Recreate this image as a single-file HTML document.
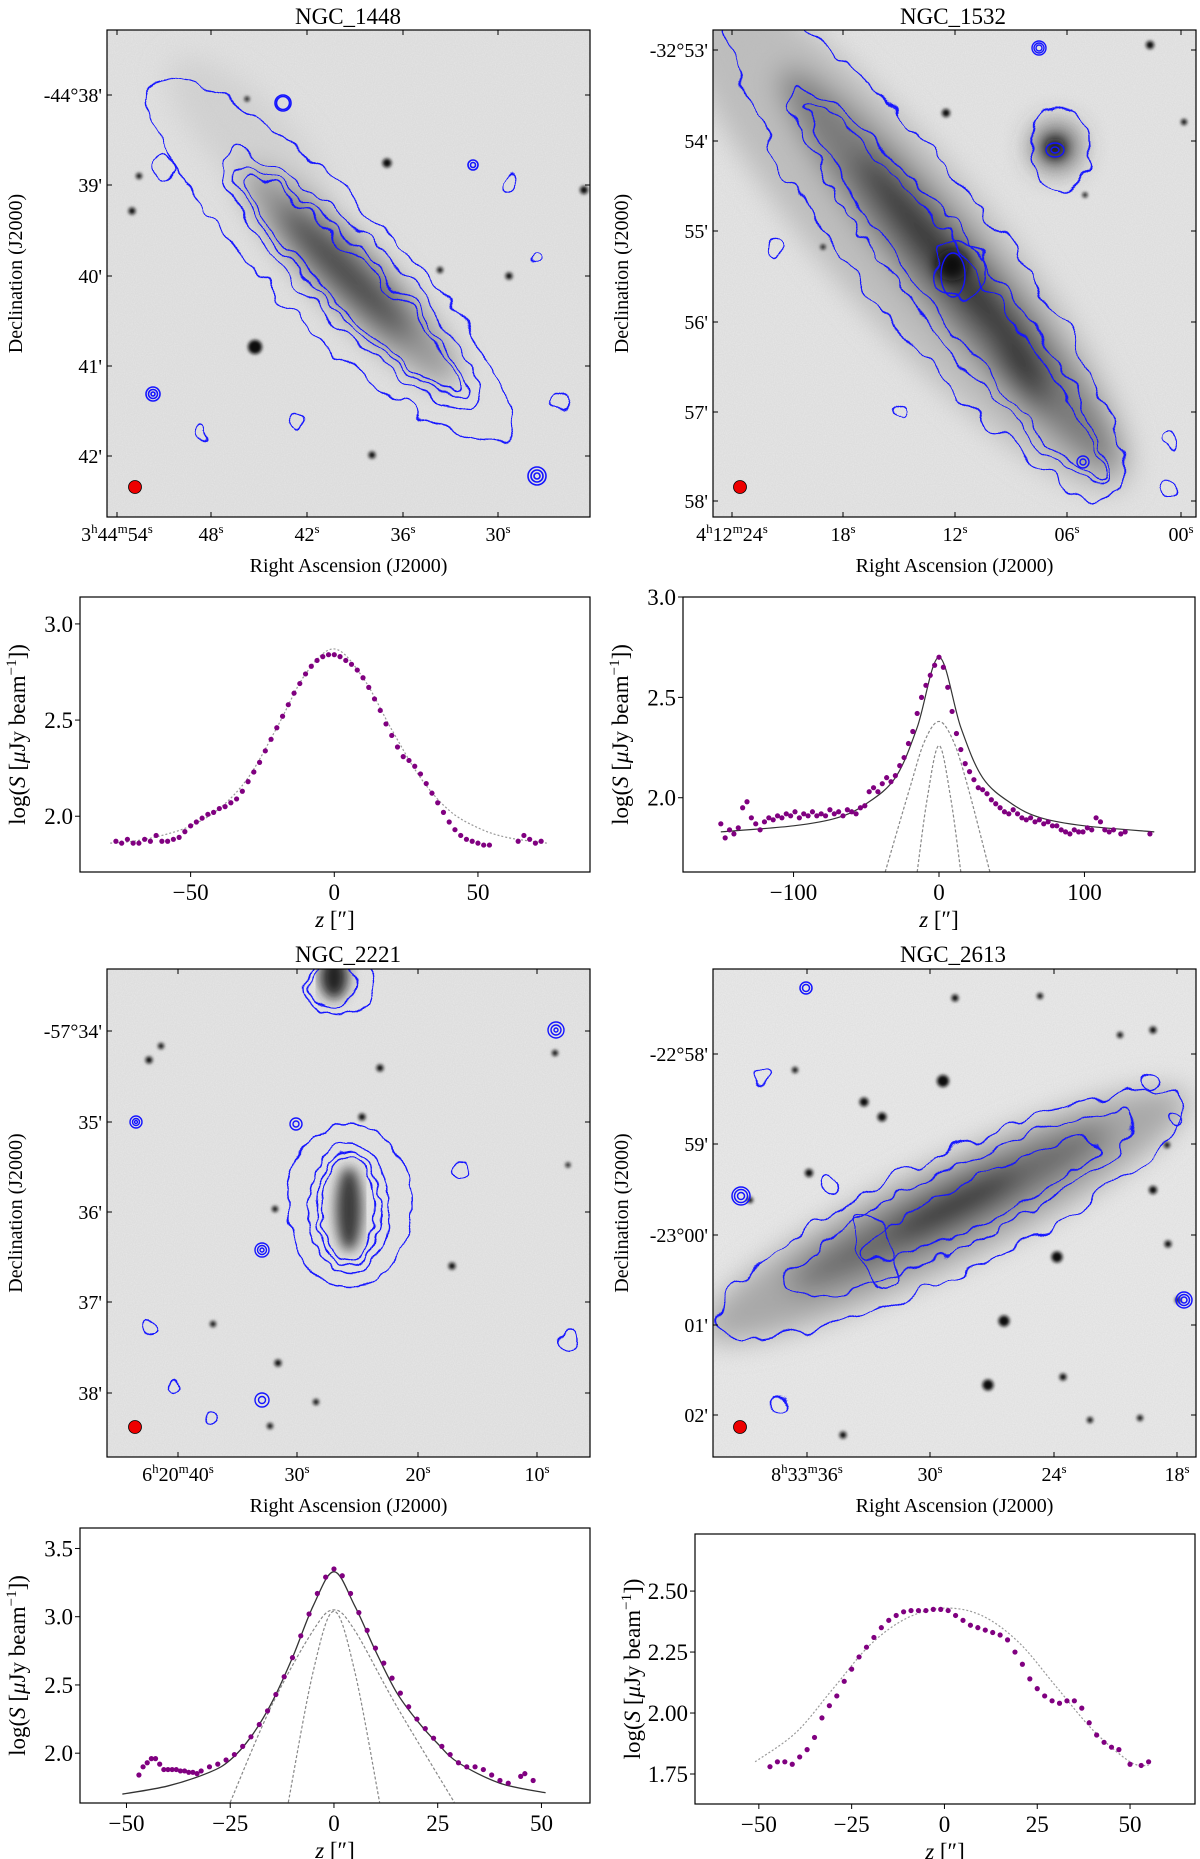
<!DOCTYPE html>
<html><head><meta charset="utf-8">
<style>
html,body{margin:0;padding:0;background:#fff;}
svg{display:block;font-family:"Liberation Serif",serif;}
</style></head>
<body>
<svg id="fig" width="1200" height="1859" viewBox="0 0 1200 1859" xmlns="http://www.w3.org/2000/svg">
<defs>
  <filter id="noise" x="0" y="0" width="100%" height="100%">
    <feTurbulence type="fractalNoise" baseFrequency="0.9" numOctaves="1" seed="3" result="t"/>
    <feColorMatrix in="t" type="matrix" values="0 0 0 0 0  0 0 0 0 0  0 0 0 0 0  0.35 0 0 0 0"/>
    <feComposite in2="SourceGraphic" operator="in"/>
  </filter>
  <filter id="wig" x="-20%" y="-20%" width="140%" height="140%">
    <feTurbulence type="fractalNoise" baseFrequency="0.035" numOctaves="2" seed="7" result="t"/>
    <feDisplacementMap in="SourceGraphic" in2="t" scale="22" xChannelSelector="R" yChannelSelector="G"/>
  </filter>
  <filter id="wig2" x="-20%" y="-20%" width="140%" height="140%">
    <feTurbulence type="fractalNoise" baseFrequency="0.05" numOctaves="2" seed="11" result="t"/>
    <feDisplacementMap in="SourceGraphic" in2="t" scale="12" xChannelSelector="R" yChannelSelector="G"/>
  </filter>
  <filter id="blur6"><feGaussianBlur stdDeviation="6"/></filter>
  <filter id="blur14"><feGaussianBlur stdDeviation="14"/></filter>
  <filter id="blur2"><feGaussianBlur stdDeviation="1.6"/></filter>
  <clipPath id="c1"><rect x="107" y="30" width="483" height="487"/></clipPath>
  <clipPath id="c2"><rect x="713" y="30" width="483" height="487"/></clipPath>
  <clipPath id="c3"><rect x="107" y="969" width="483" height="488"/></clipPath>
  <clipPath id="c4"><rect x="713" y="969" width="483" height="488"/></clipPath>
</defs>

<!-- ================= IMAGE PANEL 1: NGC_1448 ================= -->
<g>
  <text x="348" y="24" font-size="23" text-anchor="middle">NGC_1448</text>
  <g clip-path="url(#c1)">
    <rect x="107" y="30" width="483" height="487" fill="#e6e6e6"/>
    <rect x="107" y="30" width="483" height="487" fill="#000" filter="url(#noise)" opacity="0.18"/>
    <g filter="url(#blur14)">
      <ellipse cx="250" cy="140" rx="110" ry="40" transform="rotate(45 250 140)" fill="#c4c4c4" opacity="0.5"/>
      <ellipse cx="350" cy="276" rx="150" ry="32" transform="rotate(45 350 276)" fill="#959595"/>
      <ellipse cx="345" cy="272" rx="95" ry="18" transform="rotate(45 345 272)" fill="#3a3a3a"/>
    </g>
    <g fill="#111" filter="url(#blur2)">
      <circle cx="255" cy="347" r="7"/><circle cx="387" cy="163" r="4.5"/><circle cx="139" cy="176" r="3"/>
      <circle cx="132" cy="211" r="3.5"/><circle cx="584" cy="190" r="4"/><circle cx="509" cy="276" r="3.5"/>
      <circle cx="440" cy="270" r="3"/><circle cx="372" cy="455" r="3.5"/><circle cx="247" cy="99" r="2.5"/>
    </g>
    <g fill="none" stroke="#1414ff" stroke-width="1.4" filter="url(#wig)">
      <ellipse cx="330" cy="260" rx="250" ry="62" transform="rotate(45 330 260)"/>
      <ellipse cx="350" cy="280" rx="178" ry="42" transform="rotate(45 350 280)"/>
      <ellipse cx="350" cy="282" rx="160" ry="30" transform="rotate(45 350 282)"/>
      <ellipse cx="352" cy="284" rx="150" ry="23" transform="rotate(45 352 284)"/>
      <circle cx="165" cy="170" r="9"/><circle cx="510" cy="180" r="8"/><circle cx="535" cy="258" r="7"/>
      <circle cx="300" cy="420" r="8"/><circle cx="560" cy="400" r="9"/><circle cx="200" cy="430" r="6"/>
    </g>
    <g fill="none" stroke="#1414ff" stroke-width="1.6">
      <circle cx="283" cy="103" r="8"/><circle cx="283" cy="103" r="6.5"/>
      <circle cx="153" cy="394" r="7"/><circle cx="153" cy="394" r="4.5"/><circle cx="153" cy="394" r="2"/>
      <circle cx="537" cy="476" r="9"/><circle cx="537" cy="476" r="6"/><circle cx="537" cy="476" r="3"/>
      <circle cx="473" cy="165" r="5"/><circle cx="473" cy="165" r="2.5"/>
    </g>
    <circle cx="135" cy="487" r="6.5" fill="#e00" stroke="#000" stroke-width="0.8"/>
  </g>
  <g id="ax1"></g>
</g>

<!-- ================= IMAGE PANEL 2: NGC_1532 ================= -->
<g>
  <text x="953" y="24" font-size="23" text-anchor="middle">NGC_1532</text>
  <g clip-path="url(#c2)">
    <rect x="713" y="30" width="483" height="487" fill="#e8e8e8"/>
    <rect x="713" y="30" width="483" height="487" fill="#000" filter="url(#noise)" opacity="0.18"/>
    <g filter="url(#blur14)">
      <ellipse cx="900" cy="230" rx="340" ry="80" transform="rotate(49 900 230)" fill="#b4b4b4" opacity="0.8"/>
      <ellipse cx="950" cy="270" rx="260" ry="40" transform="rotate(50 950 270)" fill="#7a7a7a"/>
      <ellipse cx="952" cy="268" rx="150" ry="20" transform="rotate(50 952 268)" fill="#2e2e2e"/>
      <ellipse cx="1022" cy="377" rx="40" ry="12" transform="rotate(50 1022 377)" fill="#2e2e2e"/>
      <circle cx="1056" cy="147" r="22" fill="#444"/>
    </g>
    <g filter="url(#blur6)"><circle cx="952" cy="265" r="16" fill="#111"/><circle cx="1055" cy="148" r="10" fill="#111"/></g>
    <g fill="#111" filter="url(#blur2)">
      <circle cx="1150" cy="45" r="4"/><circle cx="946" cy="113" r="4"/><circle cx="1184" cy="122" r="3"/>
      <circle cx="1085" cy="195" r="2.5"/><circle cx="823" cy="247" r="2.5"/>
    </g>
    <g fill="none" stroke="#1414ff" stroke-width="1.4" filter="url(#wig)">
      <ellipse cx="925" cy="250" rx="310" ry="70" transform="rotate(52 925 250)"/>
      <ellipse cx="950" cy="285" rx="250" ry="42" transform="rotate(52 950 285)"/>
      <ellipse cx="955" cy="290" rx="240" ry="28" transform="rotate(52 955 290)"/>
      <ellipse cx="1060" cy="150" rx="30" ry="40"/>
      <circle cx="960" cy="270" r="28"/>
      <circle cx="775" cy="250" r="8"/><circle cx="1170" cy="440" r="9"/><circle cx="1170" cy="490" r="9"/>
      <circle cx="900" cy="410" r="8"/>
    </g>
    <g fill="none" stroke="#1414ff" stroke-width="1.4">
      <ellipse cx="953" cy="275" rx="12" ry="22"/><ellipse cx="1055" cy="150" rx="9" ry="7"/><ellipse cx="1055" cy="150" rx="4" ry="3"/>
      <circle cx="1039" cy="48" r="7"/><circle cx="1039" cy="48" r="5"/><circle cx="1039" cy="48" r="3"/>
      <circle cx="1083" cy="462" r="6"/><circle cx="1083" cy="462" r="3"/>
    </g>
    <circle cx="740" cy="487" r="6.5" fill="#e00" stroke="#000" stroke-width="0.8"/>
  </g>
  <g id="ax2"></g>
</g>

<!-- ================= IMAGE PANEL 3: NGC_2221 ================= -->
<g>
  <text x="348" y="962" font-size="23" text-anchor="middle">NGC_2221</text>
  <g clip-path="url(#c3)">
    <rect x="107" y="969" width="483" height="488" fill="#e8e8e8"/>
    <rect x="107" y="969" width="483" height="488" fill="#000" filter="url(#noise)" opacity="0.18"/>
    <g filter="url(#blur6)">
      <ellipse cx="349" cy="1209" rx="13" ry="42" fill="#3a3a3a"/>
      <ellipse cx="334" cy="977" rx="14" ry="22" fill="#222"/>
    </g>
    <g fill="#111" filter="url(#blur2)">
      <circle cx="161" cy="1046" r="3"/><circle cx="149" cy="1060" r="3.5"/><circle cx="380" cy="1068" r="3.5"/>
      <circle cx="362" cy="1117" r="3.5"/><circle cx="452" cy="1266" r="3.5"/><circle cx="278" cy="1363" r="3.5"/>
      <circle cx="316" cy="1402" r="3"/><circle cx="555" cy="1053" r="3"/><circle cx="275" cy="1209" r="3"/>
      <circle cx="270" cy="1426" r="3"/><circle cx="213" cy="1324" r="3"/><circle cx="568" cy="1165" r="2.5"/>
    </g>
    <g fill="none" stroke="#1414ff" stroke-width="1.4" filter="url(#wig2)">
      <ellipse cx="349" cy="1205" rx="62" ry="82"/>
      <ellipse cx="349" cy="1208" rx="40" ry="66"/>
      <ellipse cx="349" cy="1209" rx="32" ry="58"/>
      <ellipse cx="349" cy="1209" rx="27" ry="53"/>
      <ellipse cx="340" cy="985" rx="35" ry="30"/><ellipse cx="334" cy="985" rx="25" ry="22"/>
      <circle cx="568" cy="1340" r="9"/><circle cx="148" cy="1330" r="7"/><circle cx="460" cy="1170" r="8"/>
      <circle cx="172" cy="1385" r="6"/><circle cx="212" cy="1415" r="6"/>
    </g>
    <g fill="none" stroke="#1414ff" stroke-width="1.4">
      <circle cx="136" cy="1122" r="6"/><circle cx="136" cy="1122" r="3.5"/><circle cx="136" cy="1122" r="1.5"/>
      <circle cx="262" cy="1250" r="7"/><circle cx="262" cy="1250" r="4.5"/><circle cx="262" cy="1250" r="2"/>
      <circle cx="556" cy="1030" r="8"/><circle cx="556" cy="1030" r="5"/><circle cx="556" cy="1030" r="2"/>
      <circle cx="296" cy="1124" r="6"/><circle cx="296" cy="1124" r="3"/><circle cx="262" cy="1400" r="7"/><circle cx="262" cy="1400" r="3.5"/>
    </g>
    <circle cx="135" cy="1427" r="6.5" fill="#e00" stroke="#000" stroke-width="0.8"/>
  </g>
  <g id="ax3"></g>
</g>

<!-- ================= IMAGE PANEL 4: NGC_2613 ================= -->
<g>
  <text x="953" y="962" font-size="23" text-anchor="middle">NGC_2613</text>
  <g clip-path="url(#c4)">
    <rect x="713" y="969" width="483" height="488" fill="#ececec"/>
    <rect x="713" y="969" width="483" height="488" fill="#000" filter="url(#noise)" opacity="0.18"/>
    <g filter="url(#blur14)">
      <ellipse cx="945" cy="1215" rx="270" ry="50" transform="rotate(-26 945 1215)" fill="#a8a8a8"/>
      <ellipse cx="950" cy="1208" rx="180" ry="26" transform="rotate(-26 950 1208)" fill="#666"/>
      <ellipse cx="955" cy="1205" rx="70" ry="15" transform="rotate(-26 955 1205)" fill="#2a2a2a"/>
    </g>
    <g fill="#111" filter="url(#blur2)">
      <circle cx="943" cy="1081" r="6"/><circle cx="864" cy="1102" r="4.5"/><circle cx="882" cy="1117" r="4.5"/>
      <circle cx="1057" cy="1257" r="5.5"/><circle cx="1004" cy="1321" r="5.5"/><circle cx="988" cy="1385" r="5.5"/>
      <circle cx="809" cy="1173" r="4"/><circle cx="1153" cy="1190" r="4"/><circle cx="1168" cy="1244" r="3.5"/>
      <circle cx="1063" cy="1377" r="3.5"/><circle cx="843" cy="1435" r="3.5"/><circle cx="955" cy="998" r="3.5"/>
      <circle cx="1153" cy="1030" r="3.5"/><circle cx="1120" cy="1035" r="3"/><circle cx="1040" cy="996" r="3"/>
      <circle cx="1090" cy="1420" r="3"/><circle cx="1140" cy="1418" r="3"/><circle cx="1178" cy="1300" r="3"/>
      <circle cx="795" cy="1070" r="3"/><circle cx="750" cy="1200" r="3"/><circle cx="1167" cy="1145" r="3"/>
    </g>
    <g fill="none" stroke="#1414ff" stroke-width="1.4" filter="url(#wig)">
      <ellipse cx="950" cy="1215" rx="260" ry="58" transform="rotate(-26 950 1215)"/>
      <ellipse cx="960" cy="1205" rx="195" ry="38" transform="rotate(-26 960 1205)"/>
      <ellipse cx="980" cy="1200" rx="130" ry="22" transform="rotate(-26 980 1200)"/>
      <ellipse cx="876" cy="1250" rx="18" ry="40" transform="rotate(-20 876 1250)"/>
      <circle cx="830" cy="1185" r="9"/><circle cx="1175" cy="1120" r="8"/><circle cx="1150" cy="1080" r="9"/>
      <circle cx="780" cy="1405" r="10"/><circle cx="760" cy="1075" r="7"/>
    </g>
    <g fill="none" stroke="#1414ff" stroke-width="1.5">
      <circle cx="741" cy="1196" r="9"/><circle cx="741" cy="1196" r="6.5"/><circle cx="741" cy="1196" r="3.5"/>
      <circle cx="1184" cy="1300" r="8"/><circle cx="1184" cy="1300" r="5.5"/><circle cx="1184" cy="1300" r="3"/>
      <circle cx="806" cy="988" r="6"/><circle cx="806" cy="988" r="3.5"/>
    </g>
    <circle cx="740" cy="1427" r="6.5" fill="#e00" stroke="#000" stroke-width="0.8"/>
  </g>
  <g id="ax4"></g>
</g>

<g id="profiles"></g>
</svg>

<script>
// ---------------- Profile data ----------------
// NGC_1448 profile
const p1Z = [-76,-74,-72,-70,-68,-66,-64,-62,-60,-58,-56,-54,-52,-50,-48,-46,-44,-42,-40,-38,-36,-34,-32,-30,-28,-26,-24,-22,-20,-18,-16,-14,-12,-10,-8,-6,-4,-2,0,2,4,6,8,10,12,14,16,18,20,22,24,26,28,30,32,34,36,38,40,42,44,46,48,50,52,54,64,66,68,70,72];
const p1S = [1.87,1.86,1.88,1.86,1.86,1.88,1.87,1.90,1.87,1.87,1.88,1.89,1.92,1.95,1.97,1.99,2.01,2.02,2.04,2.05,2.07,2.09,2.13,2.18,2.23,2.28,2.34,2.40,2.46,2.52,2.58,2.64,2.69,2.74,2.78,2.81,2.83,2.84,2.84,2.83,2.81,2.79,2.76,2.72,2.67,2.61,2.55,2.48,2.42,2.36,2.31,2.29,2.26,2.22,2.17,2.12,2.07,2.02,1.97,1.93,1.90,1.88,1.87,1.86,1.85,1.85,1.87,1.90,1.88,1.86,1.87];
const p1ModelZ = [-78,-70,-60,-50,-40,-30,-20,-10,0,10,20,30,40,50,60,74];
const p1ModelS = [1.86,1.87,1.90,1.95,2.04,2.20,2.46,2.74,2.87,2.72,2.45,2.20,2.03,1.94,1.89,1.86];
const p1XTicks = [-50,0,50];
const p1YTicks = [2.0,2.5,3.0];

// NGC_1532 profile
const p2Z = [-150,-147,-144,-141,-138,-135,-132,-129,-126,-123,-120,-117,-114,-111,-108,-105,-102,-99,-96,-93,-90,-87,-84,-81,-78,-75,-72,-69,-66,-63,-60,-57,-54,-51,-48,-45,-42,-39,-36,-33,-30,-27,-24,-21,-18,-15,-12,-9,-6,-3,0,3,6,9,12,15,18,21,24,27,30,33,36,39,42,45,48,51,54,57,60,63,66,69,72,75,78,81,84,87,90,93,96,99,102,105,108,111,114,117,120,125,128,145];
const p2S = [1.87,1.80,1.84,1.82,1.85,1.95,1.98,1.90,1.87,1.84,1.88,1.90,1.89,1.91,1.90,1.92,1.91,1.93,1.90,1.92,1.91,1.93,1.91,1.92,1.91,1.94,1.92,1.93,1.91,1.94,1.93,1.92,1.95,1.96,2.03,2.05,2.03,2.07,2.10,2.08,2.11,2.16,2.20,2.27,2.33,2.42,2.50,2.56,2.61,2.66,2.70,2.65,2.55,2.43,2.32,2.24,2.17,2.13,2.09,2.05,2.04,2.02,1.99,1.97,1.95,1.93,1.92,1.94,1.92,1.90,1.89,1.90,1.88,1.89,1.87,1.88,1.86,1.86,1.84,1.83,1.82,1.84,1.83,1.83,1.85,1.84,1.90,1.88,1.84,1.83,1.84,1.82,1.83,1.82];
const p2TotalZ = [-150,-100,-70,-50,-30,-15,0,15,30,50,70,100,148];
const p2TotalS = [1.83,1.86,1.90,1.97,2.10,2.35,2.70,2.35,2.10,1.97,1.90,1.86,1.83];
const p2CompAZ = [-37,-20,-10,0,10,20,35];
const p2CompAS = [1.63,2.05,2.28,2.38,2.28,2.05,1.63];
const p2CompBZ = [-15,-8,0,8,15];
const p2CompBS = [1.63,2.00,2.26,2.00,1.63];
const p2XTicks = [-100,0,100];
const p2YTicks = [2.0,2.5,3.0];

// NGC_2221 profile
const p3Z = [-47,-46,-45,-44,-43,-42,-41,-40,-39,-38,-37,-36,-35,-34,-33,-32,-30,-28,-26,-24,-22,-20,-18,-16,-14,-12,-10,-8,-6,-4,-2,0,2,4,6,8,10,12,14,16,18,20,22,24,26,28,30,32,34,36,38,40,42,45,46,48];
const p3S = [1.84,1.90,1.93,1.96,1.96,1.92,1.88,1.88,1.88,1.88,1.87,1.87,1.86,1.86,1.85,1.87,1.90,1.92,1.95,1.99,2.05,2.12,2.21,2.31,2.43,2.56,2.70,2.86,3.02,3.17,3.29,3.35,3.30,3.17,3.03,2.90,2.77,2.66,2.55,2.44,2.34,2.25,2.18,2.11,2.05,1.99,1.93,1.90,1.90,1.88,1.84,1.80,1.78,1.83,1.85,1.80];
const p3TotalZ = [-51,-40,-30,-25,-20,-15,-10,-5,0,5,10,15,20,25,30,40,51];
const p3TotalS = [1.70,1.76,1.86,1.95,2.12,2.37,2.70,3.08,3.33,3.08,2.75,2.45,2.24,2.07,1.93,1.78,1.71];
const p3CompAZ = [-25,-15,-5,0,5,15,29];
const p3CompAS = [1.64,2.35,2.90,3.05,2.90,2.35,1.64];
const p3CompBZ = [-11,-5,0,5,11];
const p3CompBS = [1.64,2.60,3.04,2.60,1.64];
const p3XTicks = [-50,-25,0,25,50];
const p3YTicks = [2.0,2.5,3.0,3.5];

// NGC_2613 profile
const p4Z = [-47,-45,-43,-41,-39,-37,-35,-33,-31,-29,-27,-25,-23,-21,-19,-17,-15,-13,-11,-9,-7,-5,-3,-1,1,3,5,7,9,11,13,15,17,19,21,23,25,27,29,31,33,35,37,39,41,43,45,47,50,53,55];
const p4S = [1.78,1.80,1.80,1.79,1.82,1.85,1.90,1.98,2.03,2.07,2.13,2.18,2.23,2.27,2.31,2.35,2.38,2.40,2.415,2.42,2.42,2.42,2.425,2.425,2.42,2.40,2.38,2.36,2.35,2.34,2.33,2.32,2.30,2.25,2.20,2.14,2.10,2.07,2.05,2.04,2.05,2.05,2.02,1.96,1.91,1.88,1.86,1.85,1.79,1.785,1.80];
const p4ModelZ = [-51,-40,-30,-20,-10,0,10,20,30,40,50,55];
const p4ModelS = [1.80,1.92,2.10,2.28,2.39,2.43,2.40,2.29,2.11,1.93,1.80,1.785];
const p4XTicks = [-50,-25,0,25,50];
const p4YTicks = [1.75,2.00,2.25,2.50];

// ---------------- Image-panel tick labels ----------------
const im1Dec = ["-44°38'","39'","40'","41'","42'"];
const im1RA = ["54","48","42","36","30"];
const im2Dec = ["-32°53'","54'","55'","56'","57'","58'"];
const im2RA = ["24","18","12","06","00"];
const im3Dec = ["-57°34'","35'","36'","37'","38'"];
const im3RA = ["40","30","20","10"];
const im4Dec = ["-22°58'","59'","-23°00'","01'","02'"];
const im4RA = ["36","30","24","18"];

const NS = "http://www.w3.org/2000/svg";
function mk(tag, attrs, parent){
  const e = document.createElementNS(NS, tag);
  for (const k in attrs) e.setAttribute(k, attrs[k]);
  if (parent) parent.appendChild(e);
  return e;
}

function imageAxes(gid, box, decLabels, decPix, raLabels, raPix, raPrefix, prefix){
  const g = document.getElementById(gid);
  const fr = mk('rect',{x:box.x,y:box.y,width:box.w,height:box.h,fill:'none',stroke:'#000','stroke-width':1.2},g);
  
  
  decLabels.forEach((lab,i)=>{
    const y = decPix[i];
    mk('line',{x1:box.x,x2:box.x+5,y1:y,y2:y,stroke:'#000'},g);
    mk('line',{x1:box.x+box.w,x2:box.x+box.w-5,y1:y,y2:y,stroke:'#000'},g);
    const t = mk('text',{x:box.x-5,y:y+7,'font-size':20,'text-anchor':'end'},g);
    t.textContent = lab;
    
    
  });
  raLabels.forEach((lab,i)=>{
    const x = raPix[i];
    mk('line',{x1:x,x2:x,y1:box.y+box.h,y2:box.y+box.h-5,stroke:'#000'},g);
    mk('line',{x1:x,x2:x,y1:box.y,y2:box.y+5,stroke:'#000'},g);
    const t = mk('text',{x:x,y:box.y+box.h+24,'font-size':20,'text-anchor':'middle'},g);
    
    
    if (i===0){
      const parts = raPrefix.concat([lab,'s']);
      parts.forEach((p,j)=>{
        const ts = mk('tspan',{},t);
        if (j%2===1){ ts.setAttribute('font-size',13); ts.setAttribute('dy',-8); }
        else if (j>0){ ts.setAttribute('dy',8); }
        ts.textContent = p;
      });
    } else {
      const a = mk('tspan',{},t); a.textContent = lab;
      const b = mk('tspan',{'font-size':13,dy:-8},t); b.textContent = 's';
    }
  });
  const xl = mk('text',{x:box.x+box.w/2,y:box.y+box.h+55,'font-size':20,'text-anchor':'middle'},g);
  xl.textContent = 'Right Ascension (J2000)';
  
  
  const cy = box.y+box.h/2;
  const yl = mk('text',{x:0,y:0,'font-size':20,'text-anchor':'middle',transform:`translate(${box.x-85} ${cy}) rotate(-90)`},g);
  yl.textContent = 'Declination (J2000)';
  
  
}
imageAxes('ax1',{x:107,y:30,w:483,h:487},im1Dec,[95,185,276,366,456],im1RA,[117,211,307,403,498],['3','h','44','m'],'ngc1448');
imageAxes('ax2',{x:713,y:30,w:483,h:487},im2Dec,[50,141,231,322,412,501],im2RA,[732,843,955,1067,1181],['4','h','12','m'],'ngc1532');
imageAxes('ax3',{x:107,y:969,w:483,h:488},im3Dec,[1031,1122,1212,1302,1393],im3RA,[178,297,418,537],['6','h','20','m'],'ngc2221');
imageAxes('ax4',{x:713,y:969,w:483,h:488},im4Dec,[1054,1144,1235,1325,1415],im4RA,[807,930,1054,1177],['8','h','33','m'],'ngc2613');

function smoothPath(pts){
  if (pts.length<2) return '';
  let d = `M${pts[0][0]},${pts[0][1]}`;
  for (let i=0;i<pts.length-1;i++){
    const p0 = pts[i-1]||pts[i], p1 = pts[i], p2 = pts[i+1], p3 = pts[i+2]||p2;
    const c1x = p1[0]+(p2[0]-p0[0])/6, c1y = p1[1]+(p2[1]-p0[1])/6;
    const c2x = p2[0]-(p3[0]-p1[0])/6, c2y = p2[1]-(p3[1]-p1[1])/6;
    d += ` C${c1x},${c1y} ${c2x},${c2y} ${p2[0]},${p2[1]}`;
  }
  return d;
}

function profile(cfg){
  const root = document.getElementById('profiles');
  const g = mk('g',{},root);
  
  
  const sx = v => cfg.x0 + (v-cfg.xmin)/(cfg.xmax-cfg.xmin)*(cfg.x1-cfg.x0);
  const sy = v => cfg.y1 - (v-cfg.ymin)/(cfg.ymax-cfg.ymin)*(cfg.y1-cfg.y0);
  const cid = 'clip-'+cfg.name;
  const cp = mk('clipPath',{id:cid},g);
  mk('rect',{x:cfg.x0,y:cfg.y0,width:cfg.x1-cfg.x0,height:cfg.y1-cfg.y0},cp);
  const plot = mk('g',{'clip-path':`url(#${cid})`},g);
  (cfg.lines||[]).forEach(L=>{
    const pts = L.z.map((z,i)=>[sx(z),sy(L.s[i])]);
    const p = mk('path',{d:smoothPath(pts),fill:'none',stroke:L.color,'stroke-width':L.w,'stroke-dasharray':L.dash||'none'},plot);
    
    
  });
  const dots = mk('g',{fill:'#800080'},plot);
  
  
  cfg.z.forEach((z,i)=>{
    const c = mk('circle',{cx:sx(z),cy:sy(cfg.s[i]),r:2.6},dots);
    
    
  });
  const fr = mk('rect',{x:cfg.x0,y:cfg.y0,width:cfg.x1-cfg.x0,height:cfg.y1-cfg.y0,fill:'none',stroke:'#000','stroke-width':1.2},g);
  
  
  cfg.xt.forEach(v=>{
    const x = sx(v);
    mk('line',{x1:x,x2:x,y1:cfg.y1,y2:cfg.y1+5,stroke:'#000'},g);
    const t = mk('text',{x:x,y:cfg.y1+28,'font-size':23,'text-anchor':'middle'},g);
    t.textContent = v<0 ? '\u2212'+Math.abs(v) : String(v);
    
    
  });
  cfg.yt.forEach(v=>{
    const y = sy(v);
    mk('line',{x1:cfg.x0,x2:cfg.x0-5,y1:y,y2:y,stroke:'#000'},g);
    const t = mk('text',{x:cfg.x0-7,y:y+8,'font-size':23,'text-anchor':'end'},g);
    t.textContent = v.toFixed(cfg.dec);
    
    
  });
  const xl = mk('text',{x:(cfg.x0+cfg.x1)/2,y:cfg.y1+55,'font-size':23,'text-anchor':'middle'},g);
  const a = mk('tspan',{'font-style':'italic'},xl); a.textContent='z';
  const b = mk('tspan',{},xl); b.textContent=' [\u2033]';
  
  
  const cy = (cfg.y0+cfg.y1)/2;
  const yl = mk('text',{x:0,y:0,'font-size':23,'text-anchor':'middle',transform:`translate(${cfg.x0-55} ${cy}) rotate(-90)`},g);
  const t1 = mk('tspan',{},yl); t1.textContent='log(';
  const t2 = mk('tspan',{'font-style':'italic'},yl); t2.textContent='S';
  const t3 = mk('tspan',{},yl); t3.textContent=' [';
  const t4 = mk('tspan',{'font-style':'italic'},yl); t4.textContent='\u03bc';
  const t5 = mk('tspan',{},yl); t5.textContent='Jy beam';
  const t6 = mk('tspan',{'font-size':15,dy:-9},yl); t6.textContent='\u22121';
  const t7 = mk('tspan',{dy:9},yl); t7.textContent='])';
  
  
}

profile({name:'ngc1448',x0:80,x1:590,y0:597,y1:872,xmin:-88.5,xmax:89,ymin:1.71,ymax:3.14,
  z:p1Z,s:p1S,xt:p1XTicks,yt:p1YTicks,dec:1,
  lines:[{z:p1ModelZ,s:p1ModelS,color:'#999',w:1.2,dash:'2,2',label:'model-fit'}]});
profile({name:'ngc1532',x0:683,x1:1195,y0:597,y1:872,xmin:-176,xmax:176,ymin:1.63,ymax:3.0,
  z:p2Z,s:p2S,xt:p2XTicks,yt:p2YTicks,dec:1,
  lines:[{z:p2TotalZ,s:p2TotalS,color:'#333',w:1.2,label:'total-fit'},
         {z:p2CompAZ,s:p2CompAS,color:'#888',w:1.2,dash:'3,2',label:'broad-component'},
         {z:p2CompBZ,s:p2CompBS,color:'#888',w:1.2,dash:'3,2',label:'narrow-component'}]});
profile({name:'ngc2221',x0:80,x1:590,y0:1528,y1:1803,xmin:-61.2,xmax:61.7,ymin:1.635,ymax:3.65,
  z:p3Z,s:p3S,xt:p3XTicks,yt:p3YTicks,dec:1,
  lines:[{z:p3TotalZ,s:p3TotalS,color:'#333',w:1.3,label:'total-fit'},
         {z:p3CompAZ,s:p3CompAS,color:'#888',w:1.2,dash:'3,2',label:'broad-component'},
         {z:p3CompBZ,s:p3CompBS,color:'#888',w:1.2,dash:'3,2',label:'narrow-component'}]});
profile({name:'ngc2613',x0:695,x1:1195,y0:1534,y1:1804,xmin:-67.2,xmax:67.5,ymin:1.627,ymax:2.734,
  z:p4Z,s:p4S,xt:p4XTicks,yt:p4YTicks,dec:2,
  lines:[{z:p4ModelZ,s:p4ModelS,color:'#999',w:1.2,dash:'2,2',label:'model-fit'}]});
</script>
</body></html>
